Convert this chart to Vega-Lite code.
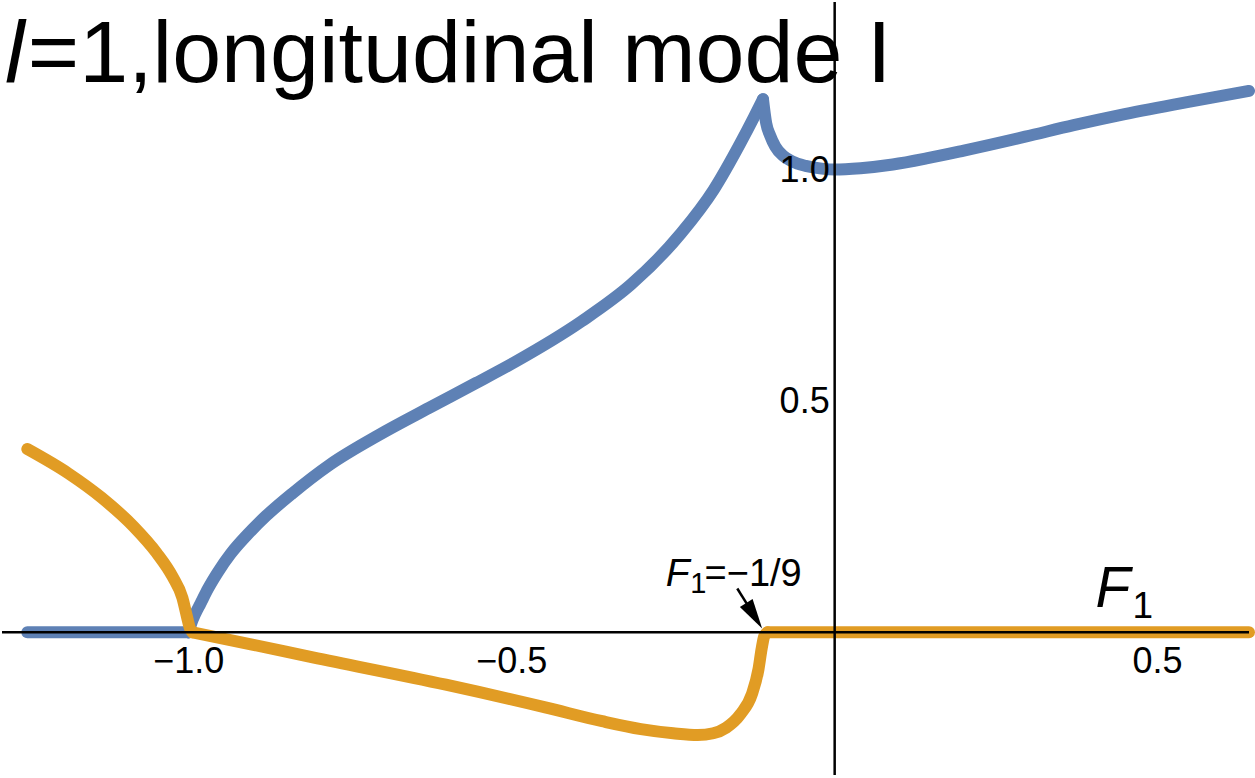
{
  "$schema": "https://vega.github.io/schema/vega-lite/v6.json",
  "width": 1255,
  "height": 778,
  "autosize": {"type": "fit", "contains": "padding"},
  "padding": 0,
  "background": "white",
  "config": {"view": {"stroke": null}, "text": {"font": "Liberation Sans", "color": "black"}},
  "datasets": {
    "curves": [
      {"series": "blue", "seg": "b1", "i": 0, "x": -1.25, "y": 0},
      {"series": "blue", "seg": "b1", "i": 1, "x": -1.0, "y": 0},
      {"series": "blue", "seg": "b2", "i": 2, "x": -1.0, "y": 0},
      {"series": "blue", "seg": "b2", "i": 3, "x": -0.996, "y": 0.02},
      {"series": "blue", "seg": "b2", "i": 4, "x": -0.99, "y": 0.04},
      {"series": "blue", "seg": "b2", "i": 5, "x": -0.982, "y": 0.062},
      {"series": "blue", "seg": "b2", "i": 6, "x": -0.97, "y": 0.095},
      {"series": "blue", "seg": "b2", "i": 7, "x": -0.955, "y": 0.13},
      {"series": "blue", "seg": "b2", "i": 8, "x": -0.935, "y": 0.17},
      {"series": "blue", "seg": "b2", "i": 9, "x": -0.91, "y": 0.21},
      {"series": "blue", "seg": "b2", "i": 10, "x": -0.88, "y": 0.252},
      {"series": "blue", "seg": "b2", "i": 11, "x": -0.84, "y": 0.3},
      {"series": "blue", "seg": "b2", "i": 12, "x": -0.782, "y": 0.362},
      {"series": "blue", "seg": "b2", "i": 13, "x": -0.705, "y": 0.427},
      {"series": "blue", "seg": "b2", "i": 14, "x": -0.628, "y": 0.485},
      {"series": "blue", "seg": "b2", "i": 15, "x": -0.555, "y": 0.539},
      {"series": "blue", "seg": "b2", "i": 16, "x": -0.494, "y": 0.585},
      {"series": "blue", "seg": "b2", "i": 17, "x": -0.392, "y": 0.672},
      {"series": "blue", "seg": "b2", "i": 18, "x": -0.315, "y": 0.752},
      {"series": "blue", "seg": "b2", "i": 19, "x": -0.238, "y": 0.862},
      {"series": "blue", "seg": "b2", "i": 20, "x": -0.187, "y": 0.957},
      {"series": "blue", "seg": "b2", "i": 21, "x": -0.146, "y": 1.057},
      {"series": "blue", "seg": "b2", "i": 22, "x": -0.125, "y": 1.113},
      {"series": "blue", "seg": "b2", "i": 23, "x": -0.111, "y": 1.152},
      {"series": "blue", "seg": "b3", "i": 24, "x": -0.111, "y": 1.152},
      {"series": "blue", "seg": "b3", "i": 25, "x": -0.106, "y": 1.1},
      {"series": "blue", "seg": "b3", "i": 26, "x": -0.1, "y": 1.074},
      {"series": "blue", "seg": "b3", "i": 27, "x": -0.092, "y": 1.05},
      {"series": "blue", "seg": "b3", "i": 28, "x": -0.08, "y": 1.03},
      {"series": "blue", "seg": "b3", "i": 29, "x": -0.065, "y": 1.017},
      {"series": "blue", "seg": "b3", "i": 30, "x": -0.045, "y": 1.008},
      {"series": "blue", "seg": "b3", "i": 31, "x": -0.02, "y": 1.002},
      {"series": "blue", "seg": "b3", "i": 32, "x": 0.0, "y": 1.0},
      {"series": "blue", "seg": "b3", "i": 33, "x": 0.04, "y": 1.003},
      {"series": "blue", "seg": "b3", "i": 34, "x": 0.09, "y": 1.011},
      {"series": "blue", "seg": "b3", "i": 35, "x": 0.142, "y": 1.024},
      {"series": "blue", "seg": "b3", "i": 36, "x": 0.2, "y": 1.041},
      {"series": "blue", "seg": "b3", "i": 37, "x": 0.295, "y": 1.071},
      {"series": "blue", "seg": "b3", "i": 38, "x": 0.37, "y": 1.096},
      {"series": "blue", "seg": "b3", "i": 39, "x": 0.449, "y": 1.12},
      {"series": "blue", "seg": "b3", "i": 40, "x": 0.55, "y": 1.147},
      {"series": "blue", "seg": "b3", "i": 41, "x": 0.6415, "y": 1.17},
      {"series": "orange", "seg": "o1", "i": 0, "x": -1.25, "y": 0.396},
      {"series": "orange", "seg": "o1", "i": 1, "x": -1.186, "y": 0.343},
      {"series": "orange", "seg": "o1", "i": 2, "x": -1.135, "y": 0.291},
      {"series": "orange", "seg": "o1", "i": 3, "x": -1.085, "y": 0.228},
      {"series": "orange", "seg": "o1", "i": 4, "x": -1.05, "y": 0.172},
      {"series": "orange", "seg": "o1", "i": 5, "x": -1.025, "y": 0.12},
      {"series": "orange", "seg": "o1", "i": 6, "x": -1.01, "y": 0.075},
      {"series": "orange", "seg": "o1", "i": 7, "x": -1.003, "y": 0.035},
      {"series": "orange", "seg": "o1", "i": 8, "x": -0.998, "y": 0.008},
      {"series": "orange", "seg": "o1", "i": 9, "x": -0.994, "y": 0.0},
      {"series": "orange", "seg": "o2", "i": 10, "x": -0.994, "y": 0.0},
      {"series": "orange", "seg": "o2", "i": 11, "x": -0.9, "y": -0.027},
      {"series": "orange", "seg": "o2", "i": 12, "x": -0.808, "y": -0.054},
      {"series": "orange", "seg": "o2", "i": 13, "x": -0.602, "y": -0.113},
      {"series": "orange", "seg": "o2", "i": 14, "x": -0.448, "y": -0.162},
      {"series": "orange", "seg": "o2", "i": 15, "x": -0.36, "y": -0.192},
      {"series": "orange", "seg": "o2", "i": 16, "x": -0.3, "y": -0.209},
      {"series": "orange", "seg": "o2", "i": 17, "x": -0.25, "y": -0.218},
      {"series": "orange", "seg": "o2", "i": 18, "x": -0.212, "y": -0.222},
      {"series": "orange", "seg": "o2", "i": 19, "x": -0.188, "y": -0.218},
      {"series": "orange", "seg": "o2", "i": 20, "x": -0.168, "y": -0.206},
      {"series": "orange", "seg": "o2", "i": 21, "x": -0.146, "y": -0.177},
      {"series": "orange", "seg": "o2", "i": 22, "x": -0.128, "y": -0.133},
      {"series": "orange", "seg": "o2", "i": 23, "x": -0.118, "y": -0.08},
      {"series": "orange", "seg": "o2", "i": 24, "x": -0.113, "y": -0.035},
      {"series": "orange", "seg": "o2", "i": 25, "x": -0.109, "y": -0.008},
      {"series": "orange", "seg": "o2", "i": 26, "x": -0.104, "y": 0},
      {"series": "orange", "seg": "o3", "i": 27, "x": -0.104, "y": 0},
      {"series": "orange", "seg": "o3", "i": 28, "x": 0.6415, "y": 0}
    ],
    "axes": [
      {"x": -1.2892, "y": 0, "x2": 0.6415, "y2": 0},
      {"x": 0, "y": -0.308, "x2": 0, "y2": 1.3621}
    ],
    "xticks": [
      {"v": -1.0, "label": "−1.0"},
      {"v": -0.5, "label": "−0.5"},
      {"v": 0.5, "label": "0.5"}
    ],
    "yticks": [
      {"v": 1.0, "label": "1.0"},
      {"v": 0.5, "label": "0.5"}
    ],
    "arrow": [
      {"x": -0.1508, "y": 0.0948, "x2": -0.1354, "y2": 0.0603}
    ],
    "arrowhead": [
      {"x": -0.1246, "y": 0.036}
    ],
    "texts": [
      {"part": "titleItalic", "x": -1.2846, "y": 1.19, "text": "l"},
      {"part": "title", "x": -1.2492, "y": 1.19, "text": "=1,longitudinal mode I"},
      {"part": "annItalic", "x": -0.2615, "y": 0.101, "text": "F"},
      {"part": "annSub", "x": -0.2235, "y": 0.086, "text": "1"},
      {"part": "annRest", "x": -0.2015, "y": 0.101, "text": "=−1/9"},
      {"part": "axItalic", "x": 0.404, "y": 0.054, "text": "F"},
      {"part": "axSub", "x": 0.461, "y": 0.032, "text": "1"}
    ]
  },
  "layer": [
    {
      "data": {"name": "curves"},
      "mark": {"type": "line", "strokeWidth": 12, "strokeCap": "round", "strokeJoin": "round", "interpolate": "monotone"},
      "encoding": {
        "x": {"field": "x", "type": "quantitative", "scale": {"domain": [-1.2892, 0.6415], "nice": false, "zero": false}, "axis": null},
        "y": {"field": "y", "type": "quantitative", "scale": {"domain": [-0.3147, 1.3621], "nice": false, "zero": false}, "axis": null},
        "color": {"field": "series", "type": "nominal", "scale": {"domain": ["blue", "orange"], "range": ["#5E81B5", "#E19C24"]}, "legend": null},
        "detail": {"field": "seg", "type": "nominal"},
        "order": {"field": "i", "type": "quantitative"}
      }
    },
    {
      "data": {"name": "axes"},
      "mark": {"type": "rule", "color": "black", "strokeWidth": 2.5},
      "encoding": {
        "x": {"field": "x", "type": "quantitative"},
        "y": {"field": "y", "type": "quantitative"},
        "x2": {"field": "x2"},
        "y2": {"field": "y2"}
      }
    },
    {
      "data": {"name": "xticks"},
      "mark": {"type": "text", "fontSize": 36, "align": "center", "baseline": "alphabetic", "dy": 41},
      "encoding": {
        "x": {"field": "v", "type": "quantitative"},
        "y": {"datum": 0},
        "text": {"field": "label"}
      }
    },
    {
      "data": {"name": "yticks"},
      "mark": {"type": "text", "fontSize": 36, "align": "right", "baseline": "middle", "dx": -5, "dy": 1},
      "encoding": {
        "x": {"datum": 0},
        "y": {"field": "v", "type": "quantitative"},
        "text": {"field": "label"}
      }
    },
    {
      "data": {"name": "arrow"},
      "mark": {"type": "rule", "color": "black", "strokeWidth": 2.5},
      "encoding": {
        "x": {"field": "x", "type": "quantitative"},
        "y": {"field": "y", "type": "quantitative"},
        "x2": {"field": "x2"},
        "y2": {"field": "y2"}
      }
    },
    {
      "data": {"name": "arrowhead"},
      "mark": {"type": "point", "shape": "M0,-1L0.5,1L-0.5,1Z", "size": 900, "angle": 148, "filled": true, "color": "black", "opacity": 1, "strokeWidth": 0},
      "encoding": {
        "x": {"field": "x", "type": "quantitative"},
        "y": {"field": "y", "type": "quantitative"}
      }
    },
    {
      "data": {"name": "texts"},
      "transform": [{"filter": "datum.part === 'titleItalic'"}],
      "mark": {"type": "text", "fontSize": 88, "fontStyle": "italic", "align": "left", "baseline": "alphabetic"},
      "encoding": {"x": {"field": "x", "type": "quantitative"}, "y": {"field": "y", "type": "quantitative"}, "text": {"field": "text"}}
    },
    {
      "data": {"name": "texts"},
      "transform": [{"filter": "datum.part === 'title'"}],
      "mark": {"type": "text", "fontSize": 88, "align": "left", "baseline": "alphabetic"},
      "encoding": {"x": {"field": "x", "type": "quantitative"}, "y": {"field": "y", "type": "quantitative"}, "text": {"field": "text"}}
    },
    {
      "data": {"name": "texts"},
      "transform": [{"filter": "datum.part === 'annItalic'"}],
      "mark": {"type": "text", "fontSize": 39, "fontStyle": "italic", "align": "left", "baseline": "alphabetic"},
      "encoding": {"x": {"field": "x", "type": "quantitative"}, "y": {"field": "y", "type": "quantitative"}, "text": {"field": "text"}}
    },
    {
      "data": {"name": "texts"},
      "transform": [{"filter": "datum.part === 'annSub'"}],
      "mark": {"type": "text", "fontSize": 29, "align": "left", "baseline": "alphabetic"},
      "encoding": {"x": {"field": "x", "type": "quantitative"}, "y": {"field": "y", "type": "quantitative"}, "text": {"field": "text"}}
    },
    {
      "data": {"name": "texts"},
      "transform": [{"filter": "datum.part === 'annRest'"}],
      "mark": {"type": "text", "fontSize": 38, "align": "left", "baseline": "alphabetic"},
      "encoding": {"x": {"field": "x", "type": "quantitative"}, "y": {"field": "y", "type": "quantitative"}, "text": {"field": "text"}}
    },
    {
      "data": {"name": "texts"},
      "transform": [{"filter": "datum.part === 'axItalic'"}],
      "mark": {"type": "text", "fontSize": 57, "fontStyle": "italic", "align": "left", "baseline": "alphabetic"},
      "encoding": {"x": {"field": "x", "type": "quantitative"}, "y": {"field": "y", "type": "quantitative"}, "text": {"field": "text"}}
    },
    {
      "data": {"name": "texts"},
      "transform": [{"filter": "datum.part === 'axSub'"}],
      "mark": {"type": "text", "fontSize": 37, "align": "left", "baseline": "alphabetic"},
      "encoding": {"x": {"field": "x", "type": "quantitative"}, "y": {"field": "y", "type": "quantitative"}, "text": {"field": "text"}}
    }
  ]
}
